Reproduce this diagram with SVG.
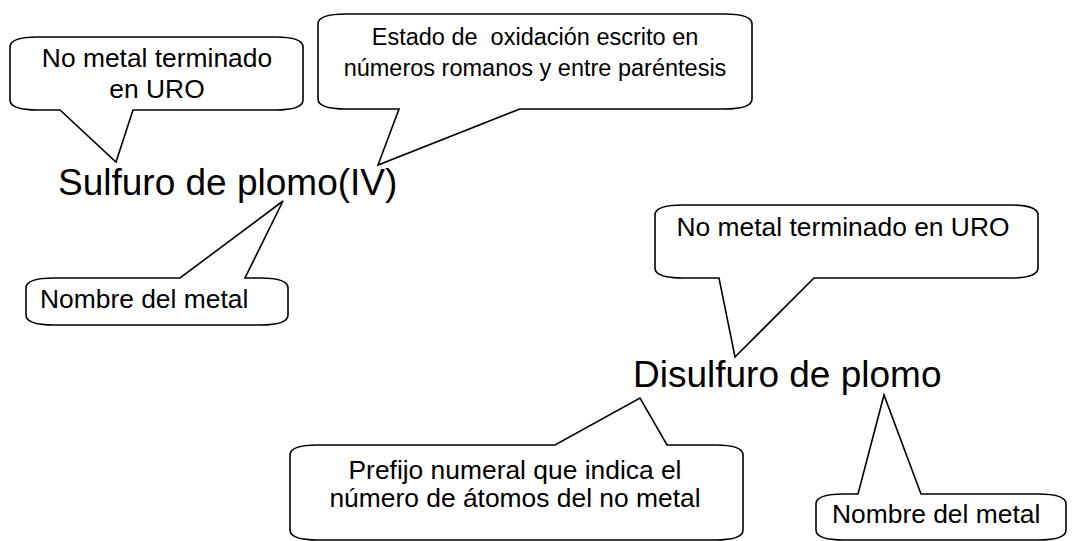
<svg xmlns="http://www.w3.org/2000/svg" width="1072" height="541" viewBox="0 0 1072 541">
<style>
.c{fill:#fff;stroke:#000;stroke-width:1.6;stroke-linejoin:miter}
.t{font-family:"Liberation Sans",Arial,Helvetica,sans-serif;font-size:26.4px;fill:#000}
.s{font-size:23.5px}
.m{text-anchor:middle}
.big{font-family:"Liberation Sans",Arial,Helvetica,sans-serif;font-size:37px;fill:#000}
</style>
<rect width="1072" height="541" fill="#fff"/>
<g id="connectors"></g>
<g id="callout1">
<path class="c" d="M38 37 H275 Q303 37 303 47 V100 Q303 110 275 110 H133 L116 162 L60 110 H38 Q10 110 10 100 V47 Q10 37 38 37 Z"/>
<text class="t m" x="157" y="67">No metal terminado</text>
<text class="t m" x="157" y="98">en URO</text>
</g>
<g id="callout2">
<path class="c" d="M346 14 H724 Q752 14 752 24 V99 Q752 109 724 109 H520 L378 165 L399 109 H346 Q318 109 318 99 V24 Q318 14 346 14 Z"/>
<text class="t s m" x="535" y="45" xml:space="preserve">Estado de  oxidación escrito en</text>
<text class="t s m" x="535" y="76">números romanos y entre paréntesis</text>
</g>
<g id="title1">
<text class="big" x="58" y="195">Sulfuro de plomo(IV)</text>
</g>
<g id="callout3">
<path class="c" d="M54 278 H180 L283 201 L245 278 H260 Q288 278 288 288 V315 Q288 325 260 325 H54 Q26 325 26 315 V288 Q26 278 54 278 Z"/>
<text class="t" x="40" y="308">Nombre del metal</text>
</g>
<g id="callout4">
<path class="c" d="M683 205 H1010 Q1038 205 1038 215 V268 Q1038 278 1010 278 H814 L735 357 L719 278 H683 Q655 278 655 268 V215 Q655 205 683 205 Z"/>
<text class="t m" x="843" y="236">No metal terminado en URO</text>
</g>
<g id="title2">
<text class="big" x="633" y="387">Disulfuro de plomo</text>
</g>
<g id="callout5">
<path class="c" d="M318 445 H555 L640 398 L667 445 H715 Q743 445 743 455 V530 Q743 540 715 540 H318 Q290 540 290 530 V455 Q290 445 318 445 Z"/>
<text class="t m" x="515" y="479">Prefijo numeral que indica el</text>
<text class="t m" x="515" y="507">número de átomos del no metal</text>
</g>
<g id="callout6">
<path class="c" d="M844 494 H858 L884 395 L921 494 H1038 Q1066 494 1066 504 V530 Q1066 540 1038 540 H844 Q816 540 816 530 V504 Q816 494 844 494 Z"/>
<text class="t" x="832" y="523">Nombre del metal</text>
</g>
</svg>
